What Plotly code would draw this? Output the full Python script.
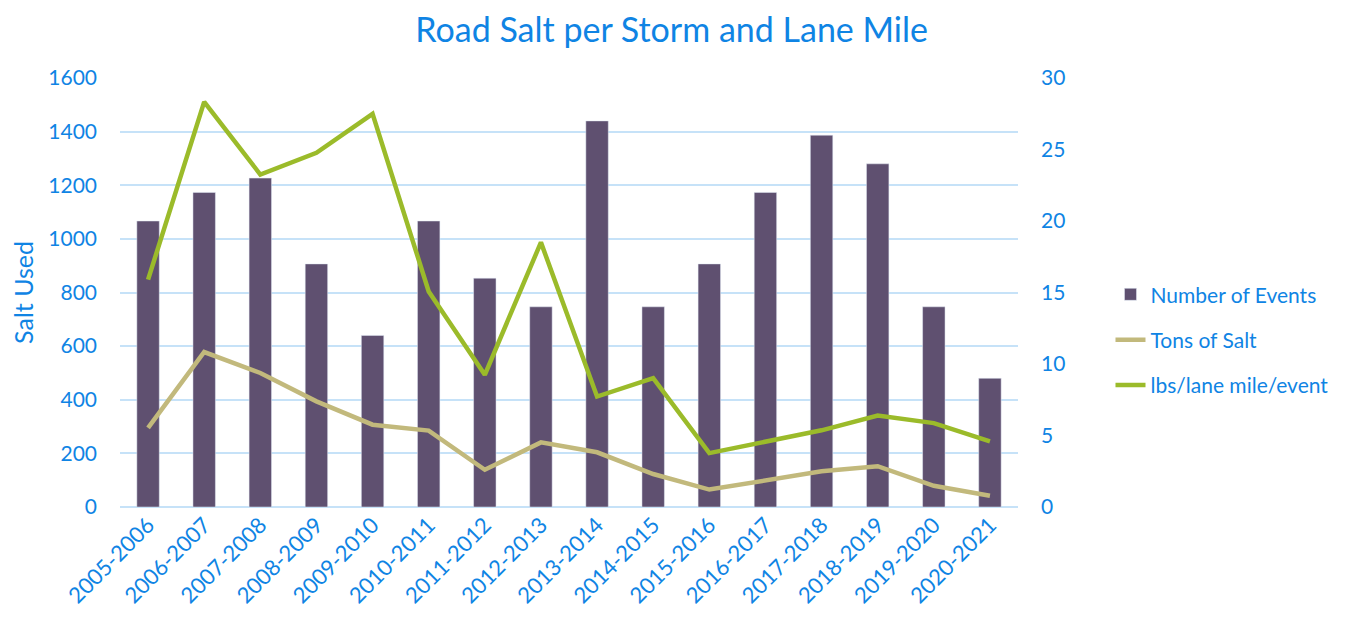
import plotly.graph_objects as go

seasons = ["2005-2006", "2006-2007", "2007-2008", "2008-2009", "2009-2010", "2010-2011",
           "2011-2012", "2012-2013", "2013-2014", "2014-2015", "2015-2016", "2016-2017",
           "2017-2018", "2018-2019", "2019-2020", "2020-2021"]
events = [20, 22, 23, 17, 12, 20, 16, 14, 27, 14, 17, 22, 26, 24, 14, 9]
tons_salt = [295, 578, 500, 394, 307, 285, 139, 241, 204, 123, 65, 99, 133, 152, 79, 42]
lbs_lane_mile = [848, 1511, 1240, 1321, 1466, 804, 493, 987, 412, 481, 201, 245, 286, 341, 313, 245]

blue = "#0F84E4"
font = "Lato"

fig = go.Figure()
# events on the right axis (base layer), salt lines on the left overlay axis
fig.add_trace(go.Bar(x=seasons, y=events, name="Number of Events", yaxis="y",
                     marker={'color': '#5F5070'}, legendgroup="a"))
fig.add_trace(go.Scatter(x=seasons, y=tons_salt, name="Tons of Salt", yaxis="y2",
                         mode="lines", line={'color': '#C2B97C', 'width': 4.5}, legendgroup="b"))
fig.add_trace(go.Scatter(x=seasons, y=lbs_lane_mile, name="lbs/lane mile/event", yaxis="y2",
                         mode="lines", line={'color': '#9BBB2A', 'width': 4.5}, legendgroup="c"))

# page body has an 8px margin, so the figure is a bit smaller than the window
fig.update_layout(
    width=1338, height=609,
    margin=dict(l=112, r=328, t=70, b=110),
    paper_bgcolor="white", plot_bgcolor="white",
    font={'family': font, 'color': blue, 'size': 21},
    title={'text': "Road Salt per Storm and Lane Mile", 'x': 0.496, 'xanchor': 'center',
           'y': 0.963, 'yanchor': 'middle', 'font': {'size': 34, 'color': blue, 'family': font}},
    bargap=0.6,
    showlegend=True,
    legend={'x': 1.103, 'y': 0.39, 'xanchor': 'left', 'yanchor': 'middle',
            'font': {'size': 21, 'color': blue}, 'tracegroupgap': 15, 'traceorder': 'grouped'},
    xaxis={'tickangle': -45, 'tickfont': {'size': 22, 'color': blue}, 'showgrid': False,
           'showline': False, 'ticks': '', 'range': [-0.5, 15.5], 'automargin': False},
    yaxis={'side': 'right', 'range': [0, 30], 'dtick': 5, 'showgrid': False, 'automargin': False,
           'tickfont': {'size': 21, 'color': blue}, 'zeroline': False, 'ticklabelstandoff': 22},
    yaxis2={'side': 'left', 'overlaying': 'y', 'range': [0, 1600], 'dtick': 200, 'automargin': False,
            'showgrid': True, 'gridcolor': '#C6E2F8', 'gridwidth': 1.5,
            'zeroline': True, 'zerolinecolor': '#C6E2F8', 'zerolinewidth': 1.5,
            'tickfont': {'size': 21, 'color': blue}, 'ticklabelstandoff': 22,
            'title': {'text': "Salt Used", 'font': {'size': 25, 'color': blue}, 'standoff': 10}},
)

fig.write_html("out.html")
